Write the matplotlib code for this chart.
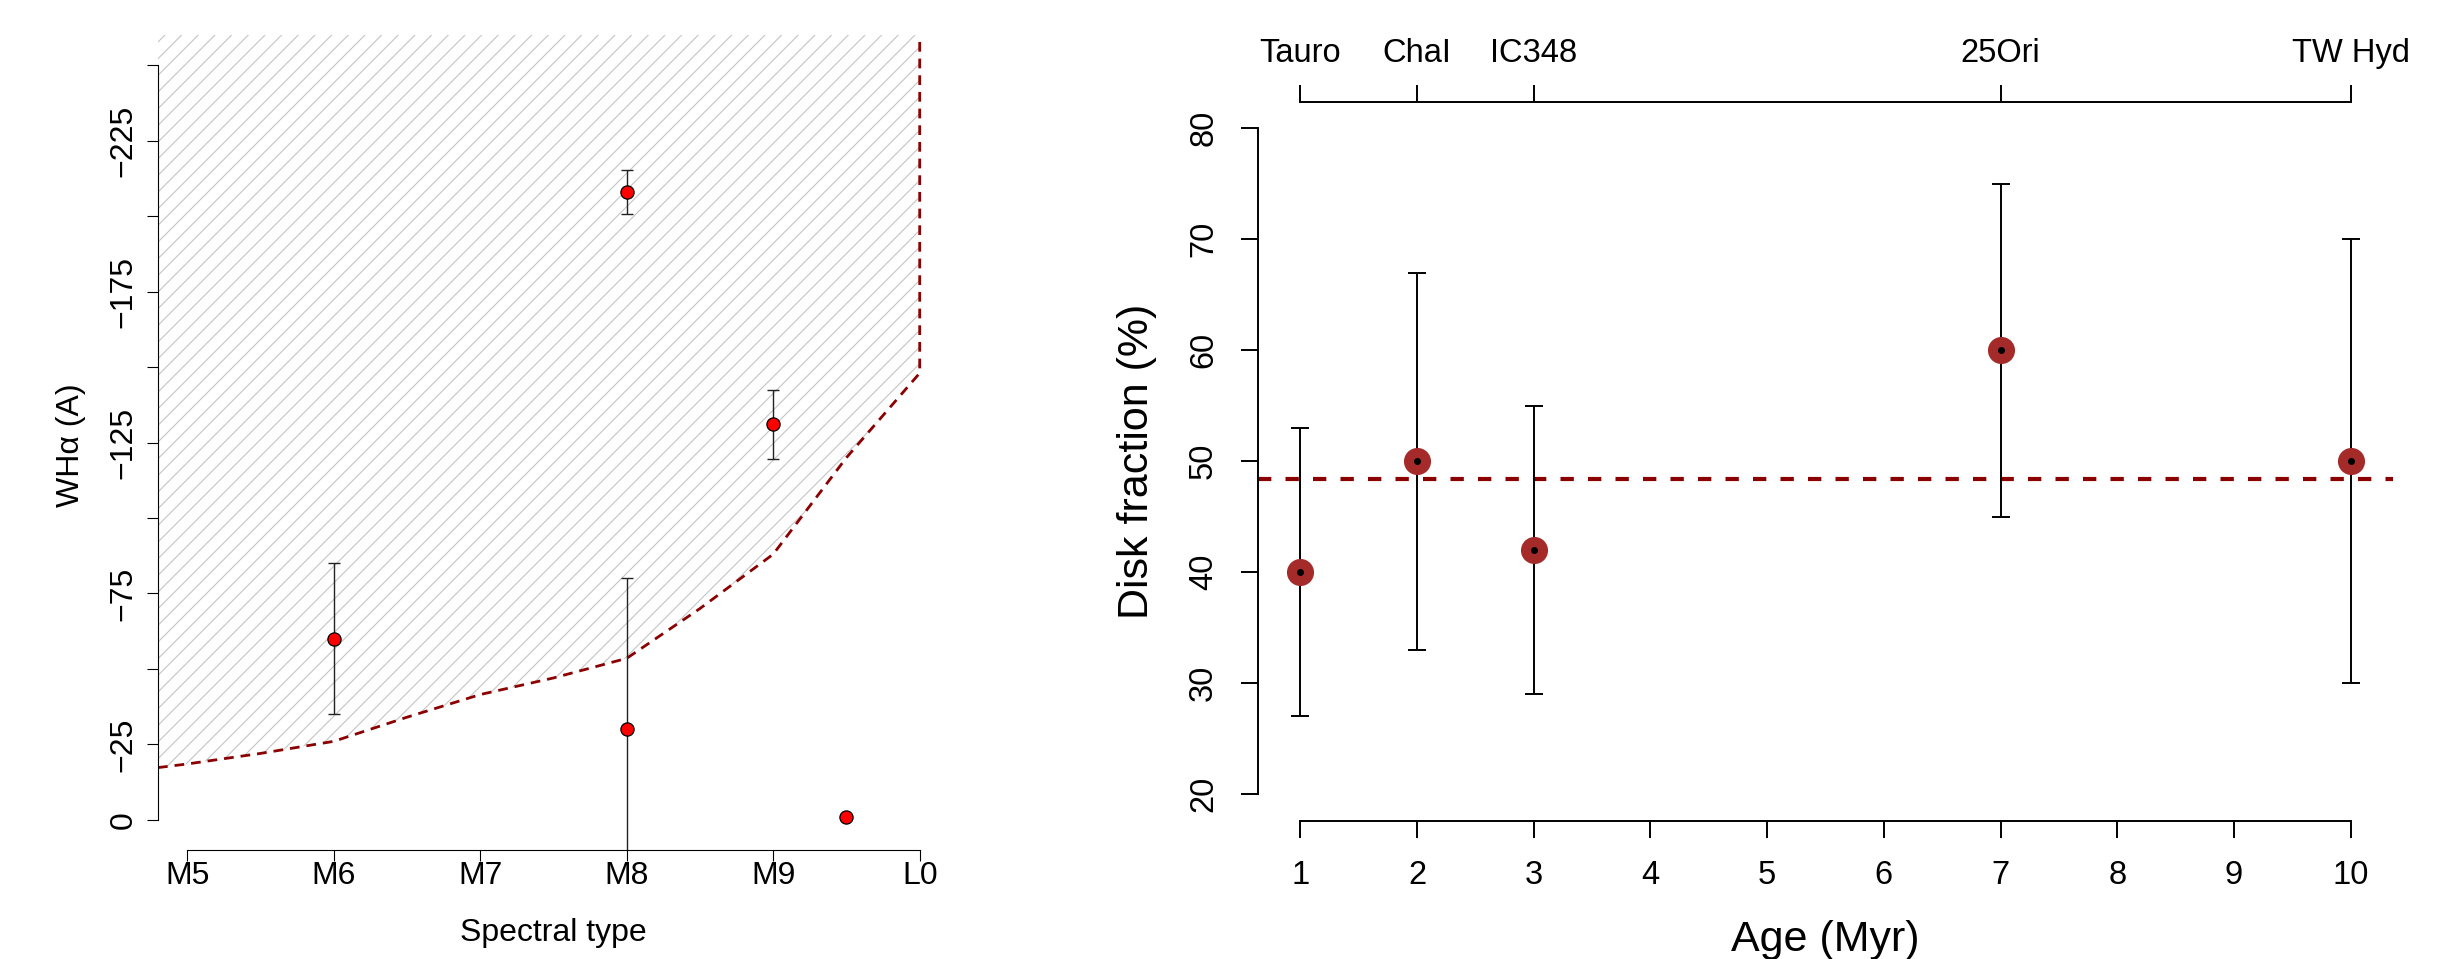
import matplotlib.pyplot as plt

plt.rcParams['font.family'] = ['Liberation Sans', 'DejaVu Sans']
plt.rcParams['hatch.color'] = '#c4c4c4'
plt.rcParams['hatch.linewidth'] = 0.8

# Left panel: H-alpha equivalent width vs spectral type
spt = [6.0, 8.0, 8.0, 9.0, 9.5]
wha = [-60, -208, -30, -131, -1]
wha_err = [25, 7.2, 50, 11.4, 0]
spt_ticks = [5, 6, 7, 8, 9, 10]
spt_labels = ['M5', 'M6', 'M7', 'M8', 'M9', 'L0']
wha_ticks = [0, -25, -50, -75, -100, -125, -150, -175, -200, -225, -250]
wha_labels = ['0', '\u221225', '', '\u221275', '', '\u2212125', '', '\u2212175', '', '\u2212225', '']

# accretion threshold curve
thr_x = [4.8, 5.0, 5.5, 6.0, 6.5, 7.0, 7.5, 8.0, 8.5, 9.0, 9.5, 10.0]
thr_y = [-17.3, -18.5, -22, -26, -34, -41.5, -47, -53.5, -70, -88, -120, -148]

# Right panel: disk fraction vs age
ages = [1, 2, 3, 7, 10]
disk_frac = [40, 50, 42, 60, 50]
disk_err = [13, 17, 13, 15, 20]
regions = ['Tauro', 'ChaI', 'IC348', '25Ori', 'TW Hyd']
age_ticks = [1, 2, 3, 4, 5, 6, 7, 8, 9, 10]
frac_ticks = [20, 30, 40, 50, 60, 70, 80]
mean_frac = 48.4

W, H = 2458, 959
fig = plt.figure(figsize=(W / 100, H / 100), dpi=100)

# ---- left panel ----
ax1 = fig.add_axes([158 / W, 1 - 850 / H, (949 - 158) / W, (850 - 35) / H])
ax1.set_xlim(4.8, 10.2)
ax1.set_ylim(10, -260)

ax1.fill_between(thr_x, thr_y, -270, facecolor='none', edgecolor='#c4c4c4',
                 hatch='//', linewidth=0, zorder=1)
ax1.plot(thr_x + [10.0], thr_y + [-265], color='#8B0000', lw=2,
         dashes=(3.5, 2.5), zorder=2)

ex = [x for x, e in zip(spt, wha_err) if e > 0]
ey = [y for y, e in zip(wha, wha_err) if e > 0]
ee = [e for e in wha_err if e > 0]
ax1.errorbar(ex, ey, yerr=ee, fmt='none', ecolor='#222222', elinewidth=1.0,
             capsize=4.3, capthick=1.0, zorder=3)
ax1.plot(spt, wha, 'o', ms=9.5, mfc='red', mec='black', mew=0.9, zorder=4)

for s in ['top', 'right']:
    ax1.spines[s].set_visible(False)
for s in ['left', 'bottom']:
    ax1.spines[s].set_linewidth(0.8)
ax1.spines['bottom'].set_bounds(5, 10)
ax1.spines['left'].set_bounds(-250, 0)
ax1.set_xticks(spt_ticks)
ax1.set_xticklabels(spt_labels)
ax1.set_yticks(wha_ticks)
ax1.set_yticklabels(wha_labels, rotation=90, va='center')
ax1.tick_params(axis='both', length=8, width=0.8, labelsize=23)
ax1.tick_params(axis='x', pad=0)
ax1.tick_params(axis='y', pad=6)

fig.text(553 / W, 1 - 941 / H, 'Spectral type', fontsize=23, ha='center', va='baseline')
fig.text(79 / W, 1 - 445 / H, 'WH\u03b1 (A)', fontsize=23, rotation=90,
         ha='center', va='baseline', rotation_mode='anchor')

# ---- right panel ----
ax2 = fig.add_axes([1258.3 / W, 1 - 820.7 / H, (2392.7 - 1258.3) / W, (820.7 - 101.7) / H])
ax2.set_xlim(0.64, 10.36)
ax2.set_ylim(17.6, 82.4)

ax2.axhline(mean_frac, color='#8B0000', lw=3, dashes=(3.2, 3.4), zorder=1)
ax2.errorbar(ages, disk_frac, yerr=disk_err, fmt='none', ecolor='black',
             elinewidth=1.4, capsize=6.4, capthick=1.4, zorder=2)
ax2.plot(ages, disk_frac, 'o', ms=19.5, color='#A52A2A', mew=0, zorder=3)
ax2.plot(ages, disk_frac, 'o', ms=4, color='black', zorder=4)

for s in ['top', 'right']:
    ax2.spines[s].set_visible(False)
for s in ['left', 'bottom']:
    ax2.spines[s].set_linewidth(1.4)
ax2.spines['bottom'].set_bounds(1, 10)
ax2.spines['left'].set_bounds(20, 80)
ax2.set_xticks(age_ticks)
ax2.set_yticks(frac_ticks)
ax2.set_yticklabels([str(v) for v in frac_ticks], rotation=90, va='center')
ax2.tick_params(axis='both', length=12.2, width=1.4, labelsize=23.5, pad=16)

top = ax2.twiny()
top.set_xlim(ax2.get_xlim())
for s in ['bottom', 'left', 'right']:
    top.spines[s].set_visible(False)
top.spines['top'].set_linewidth(1.4)
top.spines['top'].set_bounds(1, 10)
top.set_xticks(ages)
top.set_xticklabels(regions)
top.tick_params(axis='x', length=12.2, width=1.4, labelsize=23.5, pad=11)

fig.text(1825.5 / W, 1 - 951 / H, 'Age (Myr)', fontsize=31, ha='center', va='baseline')
fig.text(1148 / W, 1 - 461 / H, 'Disk fraction (%)', fontsize=31, rotation=90,
         ha='center', va='baseline', rotation_mode='anchor')

fig.savefig('out.png', dpi=100)
